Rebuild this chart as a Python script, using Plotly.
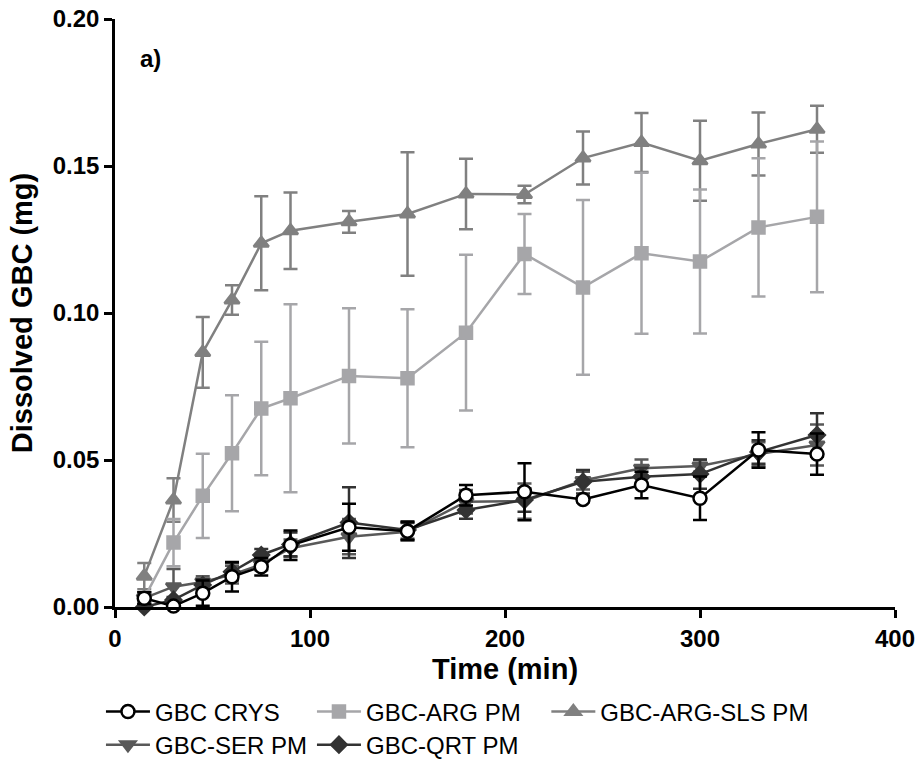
import plotly.graph_objects as go

# sampling times (min)
time_min = [15, 30, 45, 60, 75, 90, 120, 150, 180, 210, 240, 270, 300, 330, 360]

# dissolved GBC (mg), mean and SD per formulation
crys = [0.003, 0.0003, 0.0047, 0.0103, 0.0137, 0.021, 0.0271, 0.0258, 0.0380, 0.0392, 0.0366, 0.0415, 0.0370, 0.0534, 0.0520]
crys_sd = [0.002, 0.001, 0.0043, 0.005, 0.003, 0.005, 0.008, 0.003, 0.0035, 0.0097, 0.001, 0.0045, 0.0074, 0.006, 0.007]

arg = [0.003, 0.0219, 0.0378, 0.0523, 0.0675, 0.0710, 0.0786, 0.0778, 0.0933, 0.1201, 0.1087, 0.1203, 0.1175, 0.1291, 0.1327]
arg_sd = [0.002, 0.008, 0.0143, 0.0197, 0.0227, 0.032, 0.023, 0.0235, 0.0265, 0.0136, 0.0297, 0.0274, 0.0245, 0.0235, 0.0256]

sls = [0.0105, 0.0364, 0.0866, 0.1044, 0.1237, 0.1280, 0.1310, 0.1337, 0.1405, 0.1403, 0.1527, 0.1580, 0.1518, 0.1575, 0.1625]
sls_sd = [0.0045, 0.0074, 0.012, 0.005, 0.016, 0.013, 0.0037, 0.021, 0.012, 0.003, 0.009, 0.010, 0.0136, 0.0107, 0.008]

ser = [0.003, 0.0069, 0.0085, 0.011, 0.0145, 0.0200, 0.0239, 0.0256, 0.0358, 0.0360, 0.0430, 0.0472, 0.0480, 0.0520, 0.0551]
ser_sd = [0.002, 0.006, 0.002, 0.003, 0.002, 0.003, 0.006, 0.003, 0.004, 0.006, 0.003, 0.003, 0.002, 0.004, 0.007]

qrt = [0.0, 0.0024, 0.0075, 0.0120, 0.0177, 0.0213, 0.0287, 0.0262, 0.0330, 0.0364, 0.0426, 0.0443, 0.0452, 0.0527, 0.0585]
qrt_sd = [0.001, 0.001, 0.002, 0.003, 0.002, 0.004, 0.012, 0.003, 0.003, 0.004, 0.004, 0.003, 0.005, 0.004, 0.0074]

fig = go.Figure()


def add_series(y, sd, name, color, symbol, legend, rank, fill=None, size=12):
    fig.add_trace(go.Scatter(
        x=time_min, y=y, name=name, mode='lines+markers',
        line=dict(color=color, width=2.5),
        marker=dict(symbol=symbol, size=size, color=fill or color,
                    line=dict(color=color, width=2.5)),
        error_y=dict(type='data', array=sd, visible=True, color=color,
                     thickness=2.5, width=7),
        cliponaxis=False, legend=legend, legendrank=rank,
    ))


add_series(sls, sls_sd, 'GBC-ARG-SLS PM', '#808080', 'triangle-up', 'legend3', 1, size=13)
add_series(arg, arg_sd, 'GBC-ARG PM', '#a6a6a9', 'square', 'legend', 2)
add_series(ser, ser_sd, 'GBC-SER PM', '#595959', 'triangle-down', 'legend2', 1, size=13)
add_series(qrt, qrt_sd, 'GBC-QRT PM', '#333333', 'diamond', 'legend2', 2)
add_series(crys, crys_sd, 'GBC CRYS', '#000000', 'circle', 'legend', 1, fill='#ffffff', size=13)

bold = dict(family='Liberation Sans', color='black', weight='bold')

fig.add_annotation(x=12, y=0.1865, text='<b>a)</b>', showarrow=False,
                   xanchor='left', font=dict(size=24, **bold))

axis_common = dict(
    showgrid=False, zeroline=False, showline=True, linecolor='black', linewidth=2.5,
    ticks='outside', ticklen=8, tickwidth=2.5, tickcolor='black', automargin=False,
    tickfont=dict(size=24, **bold), ticklabeloverflow='allow',
)

legend_common = dict(
    orientation='h', xanchor='left', yanchor='middle', yref='container',
    font=dict(family='Liberation Sans', size=24, color='black'),
    entrywidth=152, entrywidthmode='pixels', itemwidth=44,
    bgcolor='rgba(0,0,0,0)',
)

fig.update_layout(
    width=916, height=765,
    margin=dict(l=115, r=21, t=19, b=158, autoexpand=False),
    plot_bgcolor='white', paper_bgcolor='white',
    xaxis=dict(range=[0, 400], tickvals=[0, 100, 200, 300, 400],
               title=dict(text='Time (min)', standoff=9, font=dict(size=29, **bold)),
               **axis_common),
    yaxis=dict(range=[0, 0.2], tickvals=[0, 0.05, 0.10, 0.15, 0.20], tickformat='.2f',
               title=dict(text='Dissolved GBC (mg)', standoff=12, font=dict(size=29, **bold)),
               **axis_common),
    legend=dict(x=-0.018, y=0.0693, **legend_common),
    legend3=dict(x=0.553, y=0.0693, **{k: v for k, v in legend_common.items() if k != 'entrywidth'}),
    legend2=dict(x=-0.018, y=0.0261, **legend_common),
    showlegend=True,
)

# drop the default page margin so the figure fills the window exactly
fig.write_html('out.html', config={'displayModeBar': False},
               post_script="document.body.style.margin='0';document.body.style.overflow='hidden';")
